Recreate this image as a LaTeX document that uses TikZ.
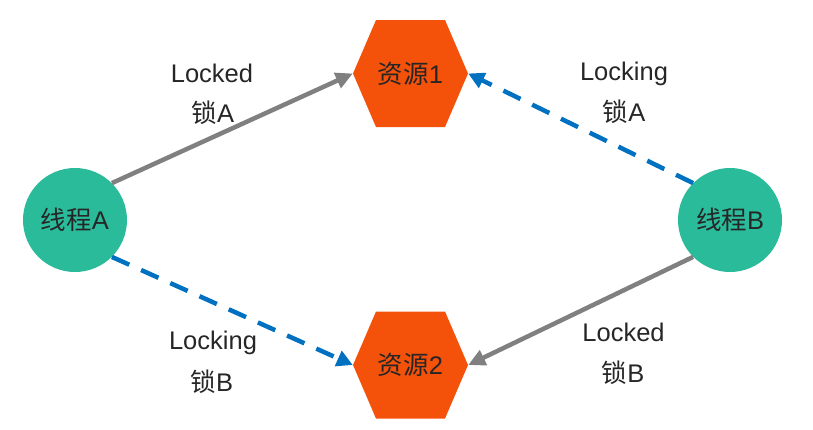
\documentclass[tikz,border=0pt]{standalone}
\usepackage{fontspec}
\setmainfont{Liberation Sans}
\newfontfamily\cjk{Noto Sans CJK SC}
\usetikzlibrary{arrows.meta}
\definecolor{hexorange}{HTML}{F4520B}
\definecolor{thrgreen}{HTML}{2ABB9B}
\definecolor{lockblue}{HTML}{0070C0}
\definecolor{lockgray}{HTML}{808080}
\definecolor{txt}{HTML}{262626}
\begin{document}
\begin{tikzpicture}[x=1pt,y=-1pt,
  every node/.style={text=txt, font=\fontsize{25.5}{30}\selectfont},
  thread/.style={circle, fill=thrgreen, minimum size=104pt, inner sep=0pt},
  res/.style={minimum width=115pt, minimum height=107pt, inner sep=0pt,
    path picture={\fill[hexorange] (path picture bounding box.west)
      -- ([xshift=23pt]path picture bounding box.north west)
      -- ([xshift=-23pt]path picture bounding box.north east)
      -- (path picture bounding box.east)
      -- ([xshift=-23pt]path picture bounding box.south east)
      -- ([xshift=23pt]path picture bounding box.south west) -- cycle;}},
  lbl/.style={anchor=base, inner sep=0pt},
  solidarrow/.style={draw=lockgray, line width=4.5pt, -{Triangle[length=17pt,width=16pt]}},
  dasharrow/.style={draw=lockblue, line width=4.5pt, dash pattern=on 19pt off 13pt, -{Triangle[length=16pt,width=16pt]}}
]
\useasboundingbox (0,0) rectangle (813,429);
\node[thread] (A) at (75,220) {{\cjk 线程}A};
\node[thread] (B) at (730,220) {{\cjk 线程}B};
\node[res] (R1) at (410.5,73.5) {{\cjk 资源}1};
\node[res] (R2) at (410.5,365) {{\cjk 资源}2};
\draw[solidarrow] (A.45) -- (R1.west);
\draw[dasharrow] (B.135) -- (R1.east);
\draw[dasharrow] (A.-45) -- (R2.west);
\draw[solidarrow] (B.-135) -- (R2.east);
\node[lbl] (l1) at (212,82) {Locked};
\node[lbl] (l2) at (213,122) {{\cjk 锁}A};
\node[lbl] (l3) at (624,80) {Locking};
\node[lbl] (l4) at (624,121) {{\cjk 锁}A};
\node[lbl] (l5) at (213,349) {Locking};
\node[lbl] (l6) at (212,391) {{\cjk 锁}B};
\node[lbl] (l7) at (623.5,341) {Locked};
\node[lbl] (l8) at (623,382) {{\cjk 锁}B};
\end{tikzpicture}
\end{document}
